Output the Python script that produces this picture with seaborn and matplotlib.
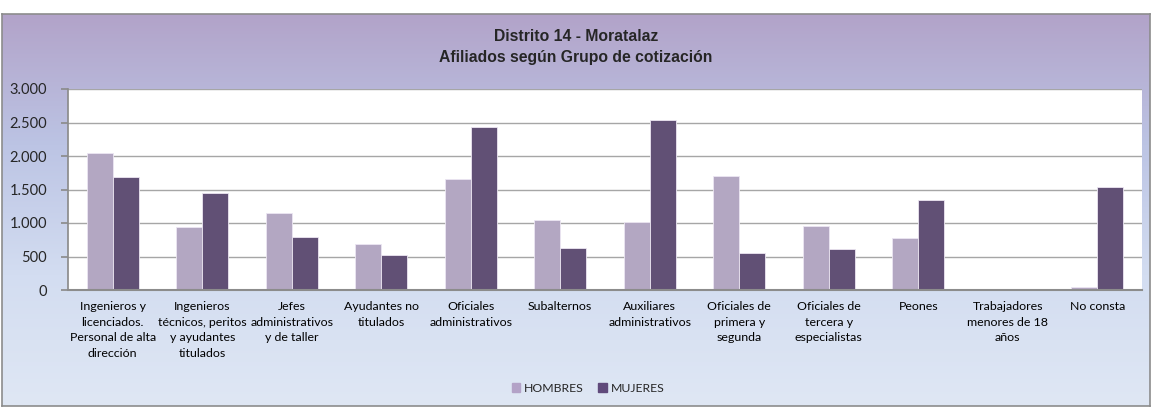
import matplotlib
matplotlib.use("Agg")
import matplotlib.pyplot as plt
import matplotlib.colors as mcolors
from matplotlib.ticker import FuncFormatter, FixedLocator
import seaborn as sns
import pandas as pd
import numpy as np

# data
grupos = [
    "Ingenieros y licenciados. Personal de alta dirección",
    "Ingenieros técnicos, peritos y ayudantes titulados",
    "Jefes administrativos y de taller",
    "Ayudantes no titulados",
    "Oficiales administrativos",
    "Subalternos",
    "Auxiliares administrativos",
    "Oficiales de primera y segunda",
    "Oficiales de tercera y especialistas",
    "Peones",
    "Trabajadores menores de 18 años",
    "No consta",
]
etiquetas = [
    "Ingenieros y\nlicenciados.\nPersonal de alta\ndirección",
    "Ingenieros\ntécnicos, peritos\ny ayudantes\ntitulados",
    "Jefes\nadministrativos\ny de taller",
    "Ayudantes no\ntitulados",
    "Oficiales\nadministrativos",
    "Subalternos",
    "Auxiliares\nadministrativos",
    "Oficiales de\nprimera y\nsegunda",
    "Oficiales de\ntercera y\nespecialistas",
    "Peones",
    "Trabajadores\nmenores de 18\naños",
    "No consta",
]
hombres = [2052, 940, 1149, 693, 1663, 1045, 1010, 1703, 960, 772, 0, 40]
mujeres = [1693, 1446, 792, 515, 2426, 629, 2530, 550, 619, 1341, 0, 1530]
series = ["HOMBRES", "MUJERES"]
yticks = [0, 500, 1000, 1500, 2000, 2500, 3000]

df = pd.concat([
    pd.DataFrame({"grupo": grupos, "afiliados": hombres, "sexo": series[0]}),
    pd.DataFrame({"grupo": grupos, "afiliados": mujeres, "sexo": series[1]}),
])

sns.set_theme(style="white")
plt.rcParams["font.family"] = ["Lato", "DejaVu Sans"]

W, H = 1152, 408
fig = plt.figure(figsize=(W / 100, H / 100), dpi=100)

# gradient chart background with grey frame
bg = fig.add_axes([2 / W, 2 / H, 1148 / W, 392 / H], zorder=-5)
cmap = mcolors.LinearSegmentedColormap.from_list(
    "fondo", ["#b2a3c9", "#bcc4e4", "#d3ddf1", "#dfe7f4"])
grad = np.linspace(0, 1, 256).reshape(-1, 1)
bg.imshow(grad, aspect="auto", cmap=cmap, extent=[0, 1, 0, 1], origin="upper")
bg.set_xticks([])
bg.set_yticks([])
for s in bg.spines.values():
    s.set_color("#8c8c8c")
    s.set_linewidth(1.2)

ax = fig.add_axes([68 / W, 1 - 290 / H, (1142 - 68) / W, (290 - 89) / H])
ax.set_facecolor("white")
sns.barplot(data=df, x="grupo", y="afiliados", hue="sexo",
            palette=["#b3a2c7", "#604a7b"], width=0.58,
            edgecolor="#ece6f2", linewidth=0.6, ax=ax)

ax.set_ylim(0, 3000)
ax.set_xlim(-0.5, len(grupos) - 0.5)
ax.yaxis.set_major_locator(FixedLocator(yticks))
ax.yaxis.set_major_formatter(FuncFormatter(lambda v, p: f"{int(v):,}".replace(",", ".")))
ax.grid(axis="y", color="#a6a6a6", linewidth=1.0)
ax.set_axisbelow(True)

ax.set_xticks(range(len(grupos)))
ax.set_xticklabels(etiquetas, fontsize=8.9, linespacing=1.5, va="top")
ax.tick_params(axis="x", length=0, pad=8, colors="black")
# tick marks between categories
ax.set_xticks(np.arange(-0.5, len(grupos), 1), minor=True)
ax.tick_params(axis="x", which="minor", length=4, color="#8c8c8c", width=1)
ax.tick_params(axis="y", length=5, color="#8c8c8c", labelsize=10.5, pad=10, left=True)

ax.set_xlabel("")
ax.set_ylabel("")
for side in ["top", "right"]:
    ax.spines[side].set_visible(False)
ax.spines["left"].set_color("#8c8c8c")
ax.spines["bottom"].set_color("#8c8c8c")
ax.spines["bottom"].set_linewidth(1.5)

ax.legend_.remove()
handles = [plt.Rectangle((0, 0), 1, 1, color=c) for c in ["#b3a2c7", "#604a7b"]]
fig.legend(handles, series, loc="center", bbox_to_anchor=(588 / W, 1 - 388 / H),
           ncol=2, frameon=False, fontsize=8.8, handlelength=0.7, handleheight=0.7,
           handletextpad=0.3, columnspacing=1.2)

fig.text(0.5, 1 - 47 / H, "Distrito 14 - Moratalaz\nAfiliados según Grupo de cotización",
         ha="center", va="center", fontsize=11.3, fontweight="bold",
         family=["Liberation Sans", "DejaVu Sans"], linespacing=1.45)

fig.savefig("out.png", dpi=100)
